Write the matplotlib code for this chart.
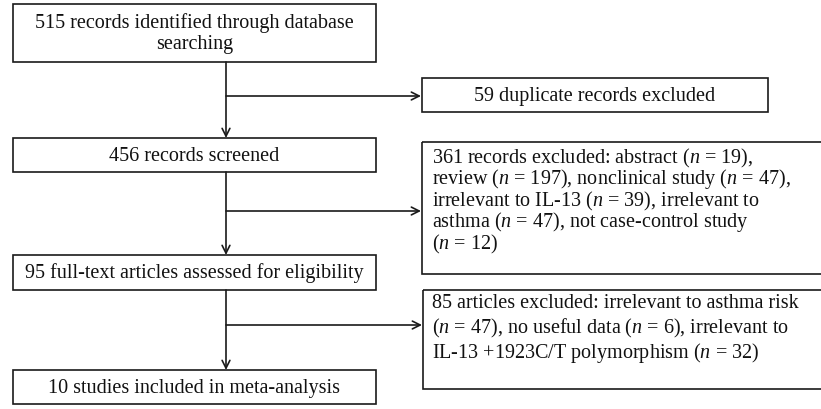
import matplotlib
matplotlib.use("Agg")
import matplotlib.pyplot as plt
from matplotlib.patches import Rectangle

plt.rcParams['font.family'] = ['Liberation Serif', 'DejaVu Serif']
plt.rcParams['mathtext.fontset'] = 'custom'
plt.rcParams['mathtext.rm'] = 'Liberation Serif'
plt.rcParams['mathtext.it'] = 'Liberation Serif:italic'

# Main flow boxes (left column), one list of lines each
main_texts = [
    ["515 records identified through database", "searching"],
    ["456 records screened"],
    ["95 full-text articles assessed for eligibility"],
    ["10 studies included in meta-analysis"],
]
# Exclusion boxes (right column), one list of lines each
side_texts = [
    ["59 duplicate records excluded"],
    ["361 records excluded: abstract ($n$ = 19),",
     "review ($n$ = 197), nonclinical study ($n$ = 47),",
     "irrelevant to IL-13 ($n$ = 39), irrelevant to",
     "asthma ($n$ = 47), not case-control study",
     "($n$ = 12)"],
    ["85 articles excluded: irrelevant to asthma risk",
     "($n$ = 47), no useful data ($n$ = 6), irrelevant to",
     "IL-13 +1923C/T polymorphism ($n$ = 32)"],
]

W, H = 821, 410
fig = plt.figure(figsize=(W / 100, H / 100), dpi=100)
ax = fig.add_axes([0, 0, 1, 1])
ax.set_xlim(0, W)
ax.set_ylim(H, 0)
ax.axis('off')

FS = 14.5
lw = 1.2
col = '#1a1a1a'
tcol = '#111111'

# main boxes: (x0, y0, x1, y1) and line centres
main_boxes = [(13, 5, 376, 63), (13, 139, 376, 173), (13, 256, 376, 291), (13, 371, 376, 405)]
main_line_y = [[23, 45], [156.5], [273.5], [388.5]]
for (x0, y0, x1, y1), lines, ys in zip(main_boxes, main_texts, main_line_y):
    ax.add_patch(Rectangle((x0, y0), x1 - x0, y1 - y0, fill=False, ec=col, lw=lw))
    for ln, yy in zip(lines, ys):
        ax.text((x0 + x1) / 2, yy, ln, ha='center', va='center', fontsize=FS, color=tcol)

# side boxes
side_boxes = [(422, 79, 768, 113), (422, 143, 830, 275), (423, 291, 830, 390)]
side_line_y = [[96], [158, 179.5, 201, 222.5, 244], [304, 328.5, 353]]
for (x0, y0, x1, y1), lines, ys, i in zip(side_boxes, side_texts, side_line_y, range(3)):
    ax.add_patch(Rectangle((x0, y0), x1 - x0, y1 - y0, fill=False, ec=col, lw=lw))
    for ln, yy in zip(lines, ys):
        if i == 0:
            ax.text((x0 + x1) / 2, yy, ln, ha='center', va='center', fontsize=FS, color=tcol)
        else:
            ax.text(432, yy, ln, ha='left', va='center', fontsize=FS, color=tcol)

xc = 226
arrow_kw = dict(arrowstyle='->', color=col, lw=lw, mutation_scale=14, shrinkA=0, shrinkB=0)
# vertical arrows
for (a, b) in [(main_boxes[0], main_boxes[1]), (main_boxes[1], main_boxes[2]), (main_boxes[2], main_boxes[3])]:
    ax.annotate('', xy=(xc, b[1]), xytext=(xc, a[3]), arrowprops=arrow_kw)
# horizontal branch arrows
for yb, xt in [(97, 421), (212, 421), (326, 422)]:
    ax.annotate('', xy=(xt, yb), xytext=(xc, yb), arrowprops=arrow_kw)

fig.savefig('out.png', dpi=100)
